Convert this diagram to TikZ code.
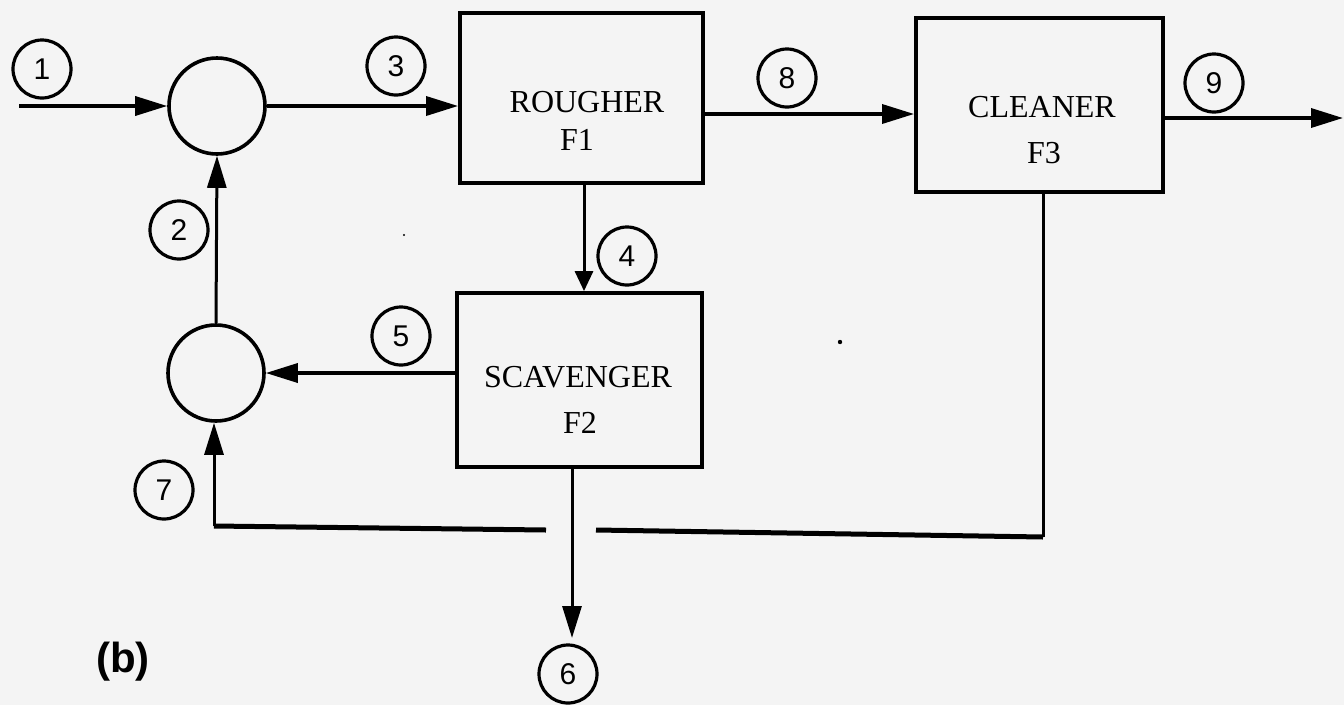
\documentclass[tikz,border=0pt]{standalone}
\usepackage{fontspec}
\usetikzlibrary{arrows.meta}
\newfontfamily\unitfont{Liberation Serif}
\newfontfamily\lblfont{Liberation Sans}
\newfontfamily\capfont{Liberation Sans}
\definecolor{paper}{HTML}{F4F4F4}
\tikzset{
  lbl/.style={circle, draw, line width=3.2pt, minimum size=58pt, inner sep=0pt, font=\lblfont\fontsize{30}{34}\selectfont},
  mix/.style={circle, draw, line width=3.6pt, minimum size=96pt, inner sep=0pt},
  unitbox/.style={draw, line width=3.8pt, inner sep=0pt},
  utext/.style={font=\unitfont\fontsize{32}{38}\selectfont, inner sep=0pt},
  flow/.style={line width=3.5pt, -{Triangle[length=32pt,width=19pt]}},
  vflow/.style={line width=3pt, -{Triangle[length=32pt,width=19pt]}},
  flowsmall/.style={line width=3pt, -{Triangle[length=20pt,width=18pt]}},
  plainline/.style={line width=3pt},
  heavyline/.style={line width=5pt},
}
\begin{document}
\begin{tikzpicture}[x=1pt,y=-1pt]
\useasboundingbox (0,0) rectangle (1344,705);
\fill[paper] (0,0) rectangle (1344,705);

% process units
\node[unitbox, minimum width=243pt, minimum height=170pt] (ro) at (581.5,98) {};
\node[unitbox, minimum width=247pt, minimum height=174pt] (cl) at (1039.5,105) {};
\node[unitbox, minimum width=245pt, minimum height=174pt] (sc) at (579.5,380) {};
\node[utext] (ro1) at (587,102) {ROUGHER};
\node[utext] (ro2) at (577,140) {F1};
\node[utext] (cl1) at (1042,107) {CLEANER};
\node[utext] (cl2) at (1044,153) {F3};
\node[utext] (sc1) at (578,377) {SCAVENGER};
\node[utext] (sc2) at (580,423) {F2};

% mixers
\node[mix] (m1) at (217,106) {};
\node[mix] (m2) at (216,373) {};

% stream labels
\node[lbl] (n1) at (42,69) {1};
\node[lbl] (n2) at (179,230) {2};
\node[lbl] (n3) at (396,66) {3};
\node[lbl] (n4) at (627,256) {4};
\node[lbl] (n5) at (401,336) {5};
\node[lbl] (n6) at (568,674) {6};
\node[lbl] (n7) at (164,490) {7};
\node[lbl] (n8) at (787,78) {8};
\node[lbl] (n9) at (1214,83) {9};

\node[font=\capfont\bfseries\fontsize{42}{46}\selectfont] (cap) at (123,662) {(b)};

% helper coordinates
\coordinate (in1) at (19,106);
\coordinate (y8) at (0,114);
\coordinate (out9) at (1343,118);
\coordinate (x4) at (584,0);
\coordinate (x6) at (572,0);
\coordinate (tip6) at (572,638);
\coordinate (c7) at (214,526);
\coordinate (gapL) at (546,530);
\coordinate (gapR) at (596,530);
\coordinate (cr) at (1043,537);

% streams
\draw[flow] (in1) -- (m1.west);
\draw[flow] (m1.east) -- (m1.east -| ro.west);
\draw[flow] (ro.east |- y8) -- (cl.west |- y8);
\draw[flow] (cl.east |- out9) -- (out9);
\draw[flowsmall] (ro.south -| x4) -- (sc.north -| x4);
\draw[flow] (sc.west |- m2) -- (m2.east);
\draw[vflow] (m2.north) -- (m1.south);
\draw[vflow] (sc.south -| x6) -- (tip6);
\draw[plainline] (cl.south -| cr) -- (cr);
\draw[heavyline] (cr) -- (gapR);
\draw[heavyline] (gapL) -- (c7);
\draw[vflow] (c7) -- (m2.south -| c7);

% scan specks
\fill (840,342) circle (2.2pt);
\fill (404,235) circle (1.2pt);
\end{tikzpicture}
\end{document}
